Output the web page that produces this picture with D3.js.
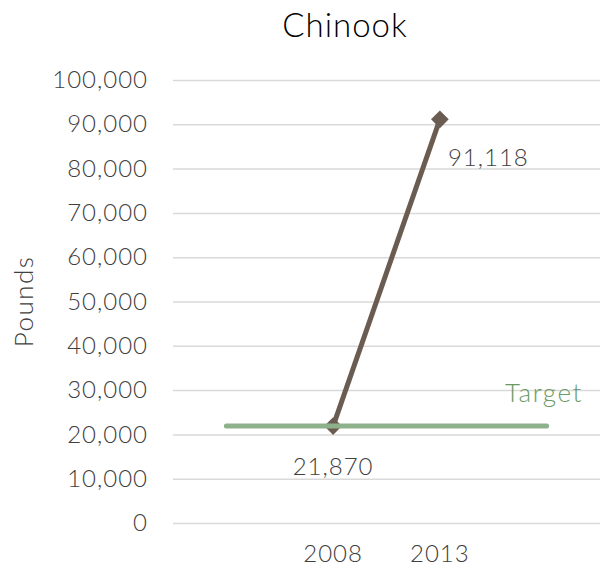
<!DOCTYPE html>
<html>
<head>
<meta charset="utf-8">
<script src="https://cdn.jsdelivr.net/npm/d3@7"></script>
<style>
  body { margin: 0; background: #fff; }
  text { font-family: "Lato", "Open Sans", sans-serif; font-weight: 300; fill: #404040; }
</style>
</head>
<body>
<div id="chart"></div>
<script>
// categories (the outer two are blank slots the target line spans)
const categories = ["", "2008", "2013", " "];
const pounds = [null, 21870, 91118, null];
const target = [21870, 21870, 21870, 21870];
const yTicks = [0, 10000, 20000, 30000, 40000, 50000, 60000, 70000, 80000, 90000, 100000];

const W = 600, H = 572;
const margin = { top: 80, right: 0, bottom: 49, left: 173 };

const svg = d3.select("#chart").append("svg")
    .attr("width", W)
    .attr("height", H);

const x = d3.scaleBand()
    .domain(categories)
    .range([margin.left, W - margin.right])
    .padding(0);

const y = d3.scaleLinear()
    .domain([0, 100000])
    .range([H - margin.bottom, margin.top]);

const cx = d => x(d) + x.bandwidth() / 2;

const labelStyle = sel => sel
    .style("font-size", "24px")
    .style("letter-spacing", "1px")
    .style("fill", "#404040")
    .style("font-family", "Lato")
    .style("font-weight", 300);

// gridlines + y labels
const yAxis = svg.append("g")
    .attr("transform", `translate(${margin.left},0)`)
    .call(d3.axisLeft(y).tickValues(yTicks).tickFormat(d3.format(",")).tickSize(-(W - margin.left)).tickPadding(25));
yAxis.select(".domain").remove();
yAxis.selectAll(".tick line").attr("stroke", "#d9d9d9").attr("stroke-width", 1.5);
yAxis.selectAll(".tick text").call(labelStyle);

// x labels
const xAxis = svg.append("g")
    .attr("transform", `translate(0,${H - margin.bottom})`)
    .call(d3.axisBottom(x).tickSize(0).tickPadding(22));
xAxis.select(".domain").remove();
xAxis.selectAll(".tick text").call(labelStyle);

// title
svg.append("text")
    .attr("x", 345)
    .attr("y", 37)
    .attr("text-anchor", "middle")
    .style("font-size", "33px")
    .style("letter-spacing", "1px")
    .style("fill", "#000")
    .text("Chinook");

// axis title
svg.append("text")
    .attr("transform", `translate(33,${(y(0) + y(100000)) / 2}) rotate(-90)`)
    .attr("text-anchor", "middle")
    .style("font-size", "26px")
    .style("letter-spacing", "1.5px")
    .text("Pounds");

// main series
const pts = categories.map((c, i) => ({ c, v: pounds[i] })).filter(d => d.v != null);
const line = d3.line().x(d => cx(d.c)).y(d => y(d.v));

svg.append("path")
    .datum(pts)
    .attr("d", line)
    .attr("fill", "none")
    .attr("stroke", "#6b5c52")
    .attr("stroke-width", 5)
    .attr("stroke-linejoin", "round");

svg.selectAll(".marker")
    .data(pts)
    .enter().append("path")
    .attr("class", "marker")
    .attr("d", d3.symbol().type(d3.symbolDiamond2).size(200))
    .attr("transform", d => `translate(${cx(d.c)},${y(d.v)})`)
    .attr("fill", "#6b5c52");

// target line
const tpts = categories.map((c, i) => ({ c, v: target[i] }));
svg.append("path")
    .datum(tpts)
    .attr("d", line)
    .attr("fill", "none")
    .attr("stroke", "#8db18a")
    .attr("stroke-width", 5)
    .attr("stroke-linecap", "round");

svg.append("text")
    .attr("x", 544)
    .attr("y", 402)
    .attr("text-anchor", "middle")
    .style("font-size", "26px")
    .style("letter-spacing", "1.5px")
    .style("fill", "#6a9a64")
    .text("Target");

// data labels
svg.append("text")
    .attr("x", cx(categories[1]))
    .attr("y", y(pounds[1]) + 49)
    .attr("text-anchor", "middle")
    .call(labelStyle)
    .text(d3.format(",")(pounds[1]));

svg.append("text")
    .attr("x", cx(categories[2]) + 8)
    .attr("y", y(pounds[2]) + 47)
    .attr("text-anchor", "start")
    .call(labelStyle)
    .text(d3.format(",")(pounds[2]));
</script>
</body>
</html>
